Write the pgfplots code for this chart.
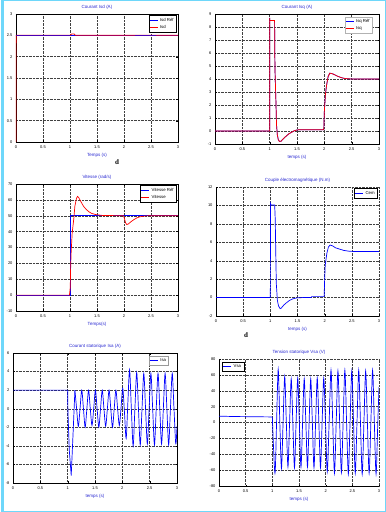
\documentclass[border=0pt]{standalone}
\usepackage{fontspec}
\setmainfont{Liberation Sans}
\newfontfamily\serif{Liberation Serif}
\usepackage{pgfplots}
\pgfplotsset{compat=1.18}
\definecolor{cyanb}{RGB}{110,215,250}
\definecolor{tblue}{RGB}{40,40,210}
\pgfplotsset{
 every axis title shift=0pt,
 base/.style={scale only axis, anchor=south west, xmin=0, xmax=3,
  xtick={0,0.5,1,1.5,2,2.5,3}, xticklabels={0,0.5,1,1.5,2,2.5,3},
  grid=major, grid style={densely dotted, black!75, line width=0.4pt},
  tick align=inside, major tick length=1.5pt, tick style={black, line width=0.3pt},
  tick label style={font=\fontsize{4}{4}\selectfont},
  /pgf/number format/assume math mode=true,
  title style={font=\fontsize{4.5}{5}\selectfont, text=tblue, at={(0.5,1)}, anchor=south, yshift=1.5pt},
  xlabel style={font=\fontsize{4.5}{5}\selectfont, text=tblue, at={(0.5,0)}, anchor=north, yshift=-7.5pt},
  legend style={font=\fontsize{4.3}{5}\selectfont, draw=black, line width=0.3pt, inner sep=0.6pt,
    at={(0.99,0.99)}, anchor=north east, cells={anchor=west}, row sep=-1.5pt},
  legend cell align=left,
  legend image code/.code={\draw[#1] (0pt,0pt) -- (8pt,0pt);},
  axis line style={line width=0.4pt},
 }
}
\begin{document}
\begin{tikzpicture}
\path[use as bounding box] (0,0) rectangle (386pt,512pt);
\fill[white] (0,0) rectangle (386pt,512pt);
\draw[cyanb, line width=1pt] (1.5pt,0.8pt) rectangle (385pt,511.3pt);
\draw[cyanb, line width=2pt] (2.5pt,0pt) -- (2.5pt,512pt);

% Plot 1
\begin{axis}[base, at={(16pt,370pt)}, width=162pt, height=128pt,
  ymin=0, ymax=3, ytick={0,0.5,1,1.5,2,2.5,3}, yticklabels={0,0.5,1,1.5,2,2.5,3},
  title={Courant Isd (A)}, xlabel={Temps (s)}]
\addplot[blue, line width=0.7pt] coordinates {(0,2.5) (3,2.5)};
\addlegendentry{Isd Réf}
\addplot[red, line width=0.7pt] coordinates {(0,0) (0.003,2.5) (1.0,2.5) (1.03,2.53) (1.08,2.53) (1.1,2.5) (3,2.5)};
\addlegendentry{Isd}
\addplot[blue, opacity=0.55, line width=0.7pt, forget plot] coordinates {(0.003,2.5) (1.0,2.5)};
\addplot[blue, opacity=0.55, line width=0.7pt, forget plot] coordinates {(2.2,2.5) (2.6,2.5)};
\end{axis}

% Plot 2
\begin{axis}[base, at={(215pt,368pt)}, width=164pt, height=130pt,
  ymin=-1, ymax=9, ytick={-1,0,...,9},
  title={Courant Isq (A)}, xlabel={temps (s)}, legend style={draw=black!30, at={(0.96,0.98)}}]
\addplot[blue, line width=0.7pt] coordinates {(0,0) (1.0,0) (1.0,8.7) (1.005,8.5) (1.09,8.5) (1.095,5.5) (1.1,4.3) (1.115,2.2) (1.125,0.5) (1.14,-0.3) (1.16,-0.7) (1.18,-0.8) (1.21,-0.78) (1.25,-0.6) (1.3,-0.4) (1.35,-0.22) (1.4,-0.1) (1.45,0.02) (1.5,0.08) (1.55,0.1) (1.99,0.1) (2.0,1.5) (2.02,2.8) (2.04,3.5) (2.07,4.2) (2.1,4.45) (2.15,4.4) (2.2,4.3) (2.25,4.2) (2.3,4.12) (2.35,4.06) (2.4,4.03) (2.5,4.0) (3,4.0)};
\addlegendentry{Isq Réf}
\addplot[red, line width=0.7pt] coordinates {(0,0) (1.0,0) (1.0,8.7) (1.005,8.5) (1.09,8.5) (1.095,5.5) (1.1,4.3) (1.115,2.2) (1.125,0.5) (1.14,-0.3) (1.16,-0.7) (1.18,-0.8) (1.21,-0.78) (1.25,-0.6) (1.3,-0.4) (1.35,-0.22) (1.4,-0.1) (1.45,0.02) (1.5,0.08) (1.55,0.1) (1.99,0.1) (2.0,1.5) (2.02,2.8) (2.04,3.5) (2.07,4.2) (2.1,4.45) (2.15,4.4) (2.2,4.3) (2.25,4.2) (2.3,4.12) (2.35,4.06) (2.4,4.03) (2.5,4.0) (3,4.0)};
\addlegendentry{Isq}
\end{axis}

% Plot 3
\begin{axis}[base, at={(16pt,201pt)}, width=162pt, height=127pt,
  ymin=-10, ymax=70, ytick={-10,0,...,70},
  title={Vitesse (rad/s)}, xlabel={Temps(s)}]
\addplot[blue, line width=0.7pt] coordinates {(0,0) (1,0) (1,50) (3,50)};
\addlegendentry{Vitesse Réf}
\addplot[red, line width=0.7pt] coordinates {(0,0) (0.99,0) (1.005,5) (1.01,15) (1.02,26) (1.04,39) (1.07,48) (1.09,56) (1.12,61) (1.14,62.2) (1.16,61.5) (1.2,59) (1.25,56) (1.3,54) (1.35,52.5) (1.4,51.5) (1.45,51) (1.5,50.6) (1.6,50.2) (1.99,50) (2.01,48) (2.03,45.5) (2.05,44.5) (2.08,44.8) (2.12,46) (2.18,47.5) (2.24,48.7) (2.3,49.4) (2.4,49.9) (2.5,50) (3,50)};
\addlegendentry{Vitesse}
\end{axis}

% Plot 4
\begin{axis}[base, at={(216pt,196pt)}, width=163pt, height=129pt,
  axis x line*=bottom, axis y line*=left,
  ymin=-2, ymax=12, ytick={-2,0,...,12},
  title={Couple électromagnétique (N.m)}, xlabel={temps (s)}]
\addplot[blue, line width=0.7pt] coordinates {(0,0) (1.0,0) (1.003,10.2) (1.01,10.05) (1.08,10.05) (1.09,8.5) (1.1,5) (1.11,1.5) (1.12,0.6) (1.13,-0.3) (1.15,-0.9) (1.18,-1.2) (1.2,-1.15) (1.25,-0.8) (1.3,-0.55) (1.35,-0.32) (1.4,-0.17) (1.45,-0.08) (1.5,-0.03) (1.6,0) (1.75,0) (1.76,0.1) (1.99,0.1) (2.0,2) (2.01,3.5) (2.04,4.8) (2.07,5.5) (2.1,5.7) (2.15,5.6) (2.2,5.4) (2.28,5.25) (2.35,5.12) (2.45,5.03) (2.55,5.0) (3,5)};
\addlegendentry{Cem}
\end{axis}

% Plot 5
\begin{axis}[base, at={(13pt,29pt)}, width=164pt, height=130pt,
  ymin=-8, ymax=6, ytick={-8,-6,...,6},
  title={Courant statorique Isa (A)}, xlabel={temps (s)}, legend style={draw=black!40, at={(0.95,0.98)}}]
\addplot[blue, line width=0.7pt] coordinates {(0,2) (1.0,2) (1.005,-0.3) (1.03,-4.5) (1.065,-7.2) (1.1,-2.5) (1.1325,2)};
\addlegendentry{Isa}
\addplot[blue, line width=0.7pt, smooth, forget plot] coordinates {
(1.1325,2) (1.16375,0) (1.195,-1.9) (1.22625,0) (1.2575,2) (1.28875,0) (1.32,-2) (1.35125,0)
(1.3825,2) (1.41375,0) (1.445,-1.8) (1.47625,0) (1.5075,2) (1.53875,0) (1.57,-2) (1.60125,0)
(1.6325,2) (1.66375,0) (1.695,-1.9) (1.72625,0) (1.7575,2) (1.78875,0) (1.82,-2) (1.85125,0)
(1.8825,2) (1.91375,0) (1.945,-1.8) (1.97625,0.1) (2.0075,2.2) (2.04,-0.5) (2.07,-3.2) (2.10,0.5)
(2.1325,4.2) (2.165,0) (2.1975,-4) (2.23,0) (2.2625,3.9) (2.295,0) (2.3275,-3.9) (2.36,0)
(2.3925,3.8) (2.425,0) (2.4575,-3.8) (2.49,0) (2.5225,3.8) (2.555,0) (2.5875,-3.9) (2.62,0)
(2.6525,3.8) (2.685,0) (2.7175,-3.8) (2.75,0) (2.7825,3.8) (2.815,0) (2.8475,-3.9) (2.88,0)
(2.9125,3.8) (2.945,0) (2.9775,-3.8) (3.0,-1.9)};
\draw[black, line width=1pt] (rel axis cs:1,0) -- (rel axis cs:1,1);
\end{axis}

% Plot 6
\begin{axis}[base, at={(219pt,26pt)}, width=160pt, height=127pt,
  axis x line*=bottom, axis y line*=left,
  ymin=-80, ymax=80, ytick={-80,-60,...,80},
  title={Tension statorique Vsa (V)}, xlabel={temps (s)}, legend style={at={(0.02,0.98)}, anchor=north west}]
\addplot[blue, line width=0.7pt] coordinates {(0,8) (0.3,7.5) (1.0,7)};
\addlegendentry{Vsa}
\addplot[blue, line width=0.7pt, smooth, forget plot] coordinates {
(1.0,7) (1.049,-64) (1.0795,0) (1.11,67) (1.1405,0) (1.171,-58) (1.2015,0) (1.232,58)
(1.2625,0) (1.293,-56) (1.3235,0) (1.354,55) (1.3845,0) (1.415,-57) (1.4455,0) (1.476,56)
(1.5065,0) (1.537,-56) (1.5675,0) (1.598,55) (1.6285,0) (1.659,-56) (1.6895,0) (1.72,55)
(1.7505,0) (1.781,-57) (1.8115,0) (1.842,56) (1.8725,0) (1.903,-57) (1.9335,0) (1.964,56)
(1.997,0) (2.03,-62) (2.065,0) (2.10,66) (2.1325,0) (2.165,-64) (2.1975,0) (2.23,65)
(2.2625,0) (2.295,-63) (2.3275,0) (2.36,66) (2.3925,0) (2.425,-65) (2.4575,0) (2.49,65)
(2.5225,0) (2.555,-64) (2.5875,0) (2.62,66) (2.6525,0) (2.685,-65) (2.7175,0) (2.75,65)
(2.7825,0) (2.815,-64) (2.8475,0) (2.88,66) (2.9125,0) (2.945,-65) (2.9775,0) (3.0,45)};
\end{axis}

\node[font=\serif\bfseries\fontsize{7}{7}\selectfont] at (117pt,350pt) {d};
\node[font=\serif\bfseries\fontsize{7}{7}\selectfont] at (246pt,177pt) {d};
\end{tikzpicture}
\end{document}
